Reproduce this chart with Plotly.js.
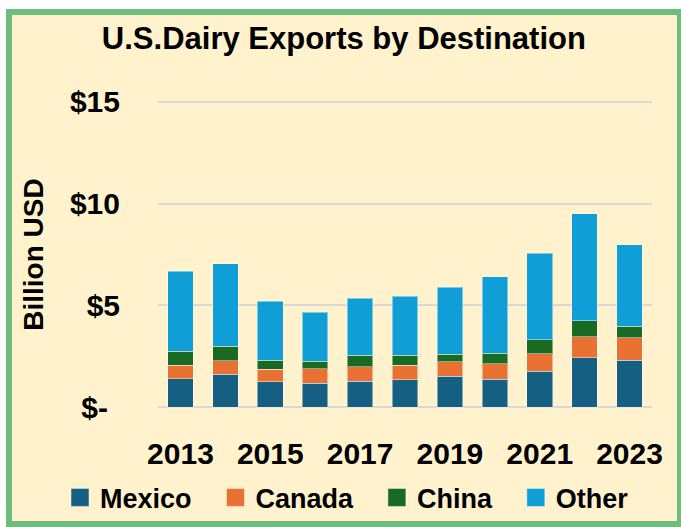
<!DOCTYPE html>
<html>
<head>
<meta charset="utf-8">
<script src="https://cdn.plot.ly/plotly-3.0.1.min.js"></script>
<style>
  html, body { margin: 0; padding: 0; width: 681px; height: 527px; overflow: hidden; background: #ffffff; }
  #frame { position: absolute; left: 6px; top: 9px; width: 677px; height: 518px; box-sizing: border-box;
           border: 6px solid #6DBE7C; background: #FFF2CC; }
  #chart { position: absolute; left: 0; top: 0; width: 681px; height: 527px; }
</style>
</head>
<body>
<div id="frame"></div>
<div id="chart"></div>
<script>
// Data (billion USD)
var years  = ['2013','2014','2015','2016','2017','2018','2019','2020','2021','2022','2023'];
var mexico = [1.41, 1.62, 1.25, 1.18, 1.28, 1.36, 1.53, 1.38, 1.77, 2.43, 2.31];
var canada = [0.66, 0.66, 0.62, 0.71, 0.72, 0.71, 0.72, 0.75, 0.86, 1.03, 1.10];
var china  = [0.69, 0.71, 0.44, 0.37, 0.56, 0.49, 0.36, 0.53, 0.70, 0.79, 0.57];
var other  = [3.92, 4.06, 2.89, 2.41, 2.79, 2.90, 3.28, 3.75, 4.23, 5.24, 3.99];
var xTickYears = ['2013','2015','2017','2019','2021','2023'];
var yTickVals  = [0, 5, 10, 15];
var yTickText  = ['$-\u2009\u2009', '$5', '$10', '$15'];

var seriesNames  = ['Mexico', 'Canada', 'China', 'Other'];
var seriesValues = [mexico, canada, china, other];
var seriesColors = ['#156082', '#E97132', '#196B24', '#0F9ED5'];

var FONT = '"Liberation Sans", Arial, sans-serif';
var LEGEND_PAD = '\u2002\u2009'; // extra spacing after each legend entry

var traces = seriesNames.map(function (name, i) {
  return {
    type: 'bar',
    name: name + LEGEND_PAD,
    x: years,
    y: seriesValues[i],
    marker: { color: seriesColors[i], line: { color: 'rgba(255,255,255,0.45)', width: 1 } },
    hoverinfo: 'skip'
  };
});

var layout = {
  width: 681,
  height: 527,
  barmode: 'stack',
  bargap: 0.43,
  paper_bgcolor: 'rgba(0,0,0,0)',
  plot_bgcolor: 'rgba(0,0,0,0)',
  margin: { l: 158, r: 29, t: 100.4, b: 118.4, pad: 0, autoexpand: false },
  font: { family: FONT, color: '#000000', weight: 700 },
  title: {
    text: 'U.S.Dairy Exports by Destination',
    font: { family: FONT, size: 31, color: '#000000', weight: 700 },
    x: 0.505, xanchor: 'center', xref: 'container',
    y: 1 - 38 / 527, yanchor: 'middle', yref: 'container'
  },
  xaxis: {
    type: 'category',
    tickmode: 'array',
    tickvals: xTickYears,
    ticktext: xTickYears,
    tickfont: { family: FONT, size: 30, color: '#000000', weight: 700 },
    ticklabelstandoff: 24,
    showgrid: false,
    zeroline: false,
    showline: false,
    ticks: ''
  },
  yaxis: {
    range: [-0.08, 15.08],
    tickmode: 'array',
    tickvals: yTickVals,
    ticktext: yTickText,
    tickfont: { family: FONT, size: 30, color: '#000000', weight: 700 },
    ticklabelstandoff: 37,
    showgrid: true,
    gridcolor: '#D9D9D9',
    gridwidth: 2,
    zeroline: false,
    showline: false,
    ticks: '',
    title: {
      text: 'Billion USD',
      font: { family: FONT, size: 28, color: '#000000', weight: 700 },
      standoff: 18
    }
  },
  showlegend: true,
  legend: {
    orientation: 'h',
    xref: 'paper', yref: 'paper',
    x: (60 - 158) / 494, xanchor: 'left',
    y: (408.6 - 497) / 307.4, yanchor: 'middle',
    traceorder: 'normal',
    font: { family: FONT, size: 27, color: '#000000', weight: 700 },
    bgcolor: 'rgba(0,0,0,0)'
  }
};

Plotly.newPlot('chart', traces, layout, { staticPlot: true, displayModeBar: false }).then(function (gd) {
  // enlarge legend swatches to match the reference's bigger squares
  var paths = gd.querySelectorAll('.legend .legendpoints path');
  paths.forEach(function (p) { p.setAttribute('d', 'M9,9H-9V-9H9Z'); });
});
</script>
</body>
</html>
